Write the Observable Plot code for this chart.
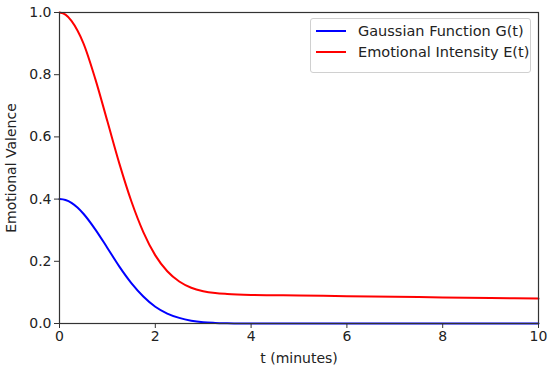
<!DOCTYPE html>
<html>
<head>
<meta charset="utf-8">
<script src="https://cdn.jsdelivr.net/npm/d3@7"></script>
<script src="https://cdn.jsdelivr.net/npm/@observablehq/plot@0.6"></script>
<style>
  html, body { margin: 0; padding: 0; background: #fff; }
  #wrap { position: relative; width: 550px; height: 371px; font-family: "DejaVu Sans", sans-serif; }
  #legend {
    position: absolute; left: 310px; top: 18px; width: 221px; height: 55px;
    box-sizing: border-box; border: 1px solid #d0d0d0; border-radius: 3px;
    background: rgba(255,255,255,0.8); font-size: 14.5px; color: #222;
  }
  .row { position: absolute; left: 5px; height: 18px; display: flex; align-items: center; }
  .sw { width: 30px; height: 2px; margin-right: 12px; }
</style>
</head>
<body>
<div id="wrap"></div>
<script>
const tValues = [0, 0.125, 0.25, 0.375, 0.5, 0.75, 1, 1.25, 1.5, 1.75, 2, 2.25, 2.5, 2.75, 3, 3.25, 3.5, 4, 5, 6, 7, 8, 9, 10];
const gaussianG = [0.400, 0.397, 0.388, 0.373, 0.353, 0.302, 0.243, 0.183, 0.130, 0.087, 0.054, 0.032, 0.018, 0.009, 0.004, 0.002, 0.001, 0.000, 0, 0, 0, 0, 0, 0];
const intensityE = [1.000, 0.993, 0.973, 0.942, 0.901, 0.785, 0.650, 0.514, 0.393, 0.294, 0.219, 0.168, 0.135, 0.115, 0.104, 0.098, 0.095, 0.092, 0.090, 0.088, 0.086, 0.084, 0.082, 0.080];
const xTicks = [0, 2, 4, 6, 8, 10];
const yTicks = [0, 0.2, 0.4, 0.6, 0.8, 1.0];
const seriesNames = ["Gaussian Function G(t)", "Emotional Intensity E(t)"];
const seriesColors = ["#0000ff", "#ff0000"];

const gData = tValues.map((t, i) => ({t, v: gaussianG[i]}));
const eData = tValues.map((t, i) => ({t, v: intensityE[i]}));

const chart = Plot.plot({
  width: 550,
  height: 371,
  marginLeft: 59,
  marginRight: 12,
  marginTop: 12,
  marginBottom: 48,
  style: { fontFamily: "DejaVu Sans, sans-serif", fontSize: "14px", color: "#222", background: "#fff" },
  x: { domain: [0, 10] },
  y: { domain: [0, 1] },
  marks: [
    Plot.line(gData, { x: "t", y: "v", stroke: seriesColors[0], strokeWidth: 2, curve: "monotone-x" }),
    Plot.line(eData, { x: "t", y: "v", stroke: seriesColors[1], strokeWidth: 2, curve: "monotone-x" }),
    Plot.frame({ stroke: "#333", strokeWidth: 1.2 }),
    Plot.axisX({ ticks: xTicks, tickSize: 5, tickPadding: 3, tickFormat: d => String(d), stroke: "#333",
      label: "t (minutes)", labelAnchor: "center", labelArrow: "none", labelOffset: 39, fontSize: 14 }),
    Plot.axisY({ ticks: yTicks, tickSize: 5, tickPadding: 3, tickFormat: d => d.toFixed(1), stroke: "#333",
      label: "Emotional Valence", labelAnchor: "center", labelArrow: "none", labelOffset: 53, fontSize: 14 })
  ]
});

const wrap = document.getElementById("wrap");
wrap.appendChild(chart);

const legend = document.createElement("div");
legend.id = "legend";
seriesNames.forEach((name, i) => {
  const row = document.createElement("div");
  row.className = "row";
  row.style.top = (3 + i * 21) + "px";
  const sw = document.createElement("div");
  sw.className = "sw";
  sw.style.background = seriesColors[i];
  const label = document.createElement("span");
  label.textContent = name;
  row.appendChild(sw);
  row.appendChild(label);
  legend.appendChild(row);
});
wrap.appendChild(legend);
</script>
</body>
</html>
